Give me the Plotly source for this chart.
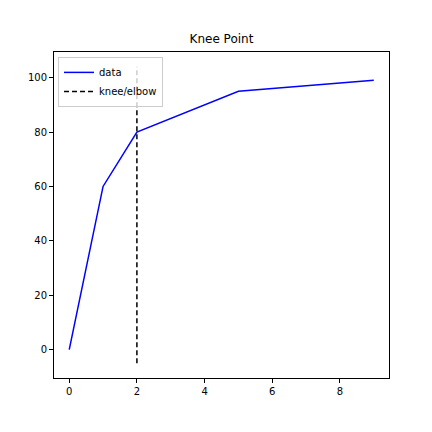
import plotly.graph_objects as go

# curve data
x_vals = [0, 1, 2, 5, 9]
y_vals = [0, 60, 80, 95, 99]

# knee point and the y span of its marker line
knee_x = 2
knee_span = [-4.95, 103.95]

font_name = "DejaVu Sans"

fig = go.Figure()
fig.add_trace(go.Scatter(x=x_vals, y=y_vals, mode="lines", name="data",
                         line=dict(color="blue", width=1.5)))
fig.add_trace(go.Scatter(x=[knee_x, knee_x], y=knee_span, mode="lines", name="knee/elbow",
                         line=dict(color="black", width=1.5, dash="5px,3px")))

axis_style = dict(showline=True, linecolor="black", linewidth=1, mirror=True,
                  ticks="outside", ticklen=4, tickcolor="black", showgrid=False,
                  zeroline=False, tickfont=dict(size=10, color="black"))

fig.update_layout(
    width=432, height=432,
    margin=dict(l=46, r=51, t=44, b=62),
    paper_bgcolor="white", plot_bgcolor="white",
    font=dict(family=font_name, color="black"),
    title=dict(text="Knee Point", xref="paper", x=0.5, xanchor="center", y=0.92, yanchor="bottom",
               font=dict(size=12)),
    xaxis=dict(range=[-0.45, 9.45], tickvals=[0, 2, 4, 6, 8], **axis_style),
    yaxis=dict(range=[-10.4, 109.4], tickvals=[0, 20, 40, 60, 80, 100], **axis_style),
    legend=dict(x=0.012, y=0.985, xanchor="left", yanchor="top",
                bgcolor="rgba(255,255,255,0.8)", bordercolor="#cccccc", borderwidth=1,
                font=dict(size=10), tracegroupgap=0, itemwidth=30),
    showlegend=True,
)

fig.write_html("out.html")
